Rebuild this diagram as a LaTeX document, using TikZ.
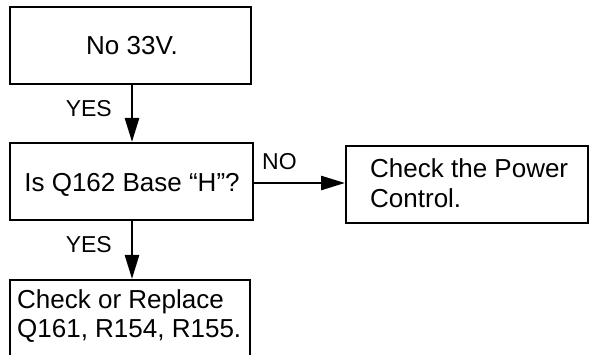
\documentclass[tikz,border=0pt]{standalone}
\usepackage{fontspec}
\setmainfont{Liberation Sans}
\usetikzlibrary{arrows.meta,calc}
\begin{document}
\begin{tikzpicture}[x=1pt,y=1pt,
  box/.style={draw,line width=2pt,rectangle,inner sep=0pt},
  txt/.style={inner sep=0pt,anchor=base west,font=\fontsize{26}{29.5}\selectfont,align=left},
  lbl/.style={inner sep=0pt,font=\fontsize{23}{26}\selectfont},
  arr/.style={line width=2.6pt,-{Triangle[length=24pt,width=14pt]}}]
\useasboundingbox (0,0) rectangle (590,-355);
\node[box,minimum width=241pt,minimum height=77pt] (b1) at (130.5,-45.5) {};
\node[box,minimum width=243pt,minimum height=77pt] (b2) at (131.5,-181.5) {};
\node[box,minimum width=242pt,minimum height=77pt] (b3) at (467,-184.5) {};
\node[box,minimum width=240pt,minimum height=100pt] (b4) at (130,-330) {};
\node[txt,anchor=base] (t1) at (132,-55) {No 33V.};
\node[txt,anchor=base] (t2) at (132,-192) {Is Q162 Base “H”?};
\node[txt] (t3) at (370,-207.5) {Check the Power\\Control.};
\node[txt] (t4) at (17,-338) {Check or Replace\\Q161, R154, R155.};
\draw[arr] (b1.south -| 132,0) -- (b2.north -| 132,0);
\draw[arr] ([yshift=-1.5pt]b2.east) -- ([yshift=-1.5pt]b2.east -| b3.west);
\draw[arr] (b2.south -| 132,0) -- (b4.north -| 132,0);
\node[lbl,anchor=base east] (y1) at (112,-117) {YES};
\node[lbl,anchor=base east] (y2) at (112,-253) {YES};
\node[lbl,anchor=base west] (n1) at (262,-170) {NO};
\end{tikzpicture}
\end{document}
